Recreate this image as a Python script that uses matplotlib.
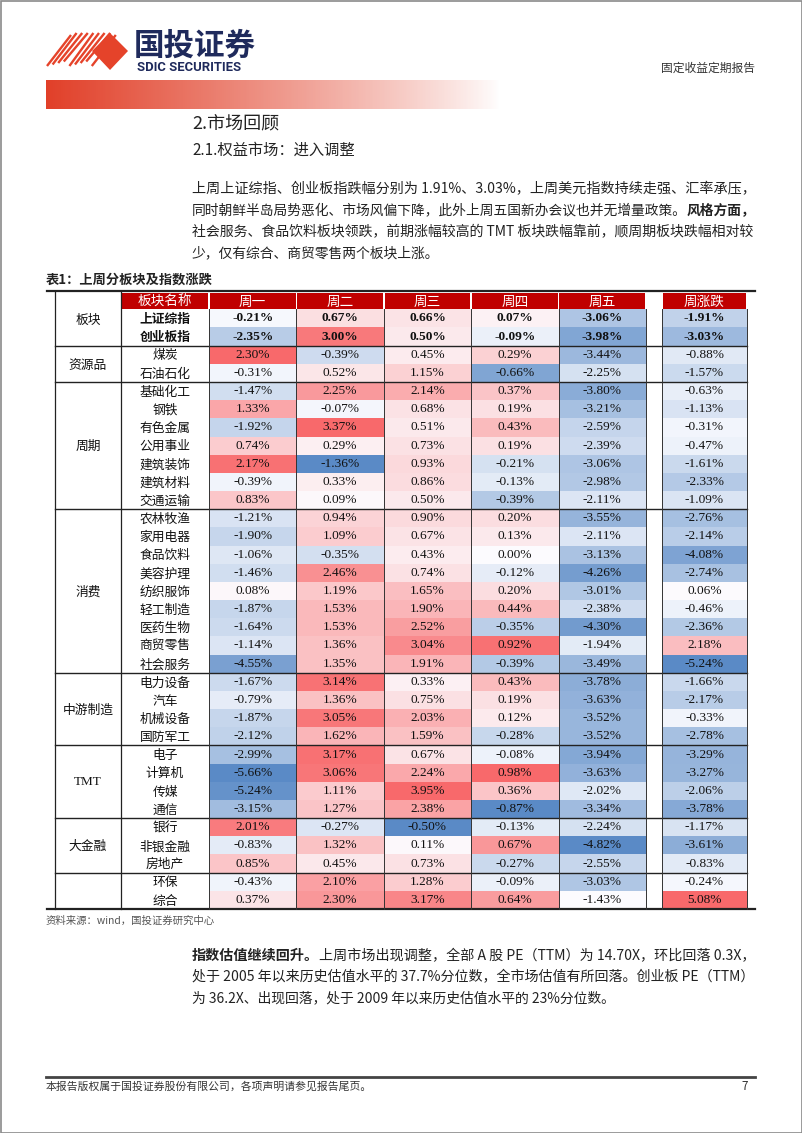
import numpy as np
import matplotlib
matplotlib.use('Agg')
import matplotlib.pyplot as plt
from matplotlib.colors import LinearSegmentedColormap
from matplotlib.patches import Rectangle, Polygon

plt.rcParams['font.family'] = ['Noto Sans CJK SC', 'DejaVu Sans']

# ---------------- data ----------------
groups = ['板块', '资源品', '周期', '消费', '中游制造', 'TMT', '大金融', '']
group_sizes = [2, 2, 7, 9, 4, 4, 3, 2]
names = ['上证综指', '创业板指', '煤炭', '石油石化', '基础化工', '钢铁', '有色金属', '公用事业',
         '建筑装饰', '建筑材料', '交通运输', '农林牧渔', '家用电器', '食品饮料', '美容护理',
         '纺织服饰', '轻工制造', '医药生物', '商贸零售', '社会服务', '电力设备', '汽车',
         '机械设备', '国防军工', '电子', '计算机', '传媒', '通信', '银行', '非银金融',
         '房地产', '环保', '综合']
columns = ['周一', '周二', '周三', '周四', '周五', '周涨跌']
mon = [-0.21, -2.35, 2.30, -0.31, -1.47, 1.33, -1.92, 0.74, 2.17, -0.39, 0.83, -1.21, -1.90,
       -1.06, -1.46, 0.08, -1.87, -1.64, -1.14, -4.55, -1.67, -0.79, -1.87, -2.12, -2.99,
       -5.66, -5.24, -3.15, 2.01, -0.83, 0.85, -0.43, 0.37]
tue = [0.67, 3.00, -0.39, 0.52, 2.25, -0.07, 3.37, 0.29, -1.36, 0.33, 0.09, 0.94, 1.09,
       -0.35, 2.46, 1.19, 1.53, 1.53, 1.36, 1.35, 3.14, 1.36, 3.05, 1.62, 3.17, 3.06, 1.11,
       1.27, -0.27, 1.32, 0.45, 2.10, 2.30]
wed = [0.66, 0.50, 0.45, 1.15, 2.14, 0.68, 0.51, 0.73, 0.93, 0.86, 0.50, 0.90, 0.67, 0.43,
       0.74, 1.65, 1.90, 2.52, 3.04, 1.91, 0.33, 0.75, 2.03, 1.59, 0.67, 2.24, 3.95, 2.38,
       -0.50, 0.11, 0.73, 1.28, 3.17]
thu = [0.07, -0.09, 0.29, -0.66, 0.37, 0.19, 0.43, 0.19, -0.21, -0.13, -0.39, 0.20, 0.13,
       0.00, -0.12, 0.20, 0.44, -0.35, 0.92, -0.39, 0.43, 0.19, 0.12, -0.28, -0.08, 0.98,
       0.36, -0.87, -0.13, 0.67, -0.27, -0.09, 0.64]
fri = [-3.06, -3.98, -3.44, -2.25, -3.80, -3.21, -2.59, -2.39, -3.06, -2.98, -2.11, -3.55,
       -2.11, -3.13, -4.26, -3.01, -2.38, -4.30, -1.94, -3.49, -3.78, -3.63, -3.52, -3.52,
       -3.94, -3.63, -2.02, -3.34, -2.24, -4.82, -2.55, -3.03, -1.43]
week = [-1.91, -3.03, -0.88, -1.57, -0.63, -1.13, -0.31, -0.47, -1.61, -2.33, -1.09, -2.76,
        -2.14, -4.08, -2.74, 0.06, -0.46, -2.36, 2.18, -5.24, -1.66, -2.17, -0.33, -2.78,
        -3.29, -3.27, -2.06, -3.78, -1.17, -3.61, -0.83, -0.24, 5.08]
series = [mon, tue, wed, thu, fri, week]

# ---------------- page ----------------
W, H = 802, 1133
fig = plt.figure(figsize=(W / 100, H / 100), dpi=100)
ax = fig.add_axes([0, 0, 1, 1])
ax.set_xlim(0, W)
ax.set_ylim(H, 0)
ax.axis('off')
renderer = fig.canvas.get_renderer()

ax.add_patch(Rectangle((0.5, 0.5), W - 1, H - 1, fill=False, ec='#8a8a8a', lw=1.2))

# logo
RED = '#E5432A'
for k in range(9):
    x0 = 47 + 5.6 * k
    top = 33 + (2 if k in (0, 8) else 0)
    ax.plot([x0, x0 + 24], [66 - (k % 4) * 1.5, top], color=RED, lw=1.7, solid_capstyle='butt')
ax.add_patch(Polygon([(92, 51), (110, 33), (128, 51), (110, 70)], closed=True, fc=RED, ec='none'))
ax.text(134, 46, '国投证券', fontsize=22, fontweight='bold', color='#1F2A5C', va='center', ha='left')
ax.text(137, 67.5, 'SDIC SECURITIES', fontsize=9.4, fontweight='bold', color='#1F2A5C',
        va='center', ha='left', family='Roboto')
ax.text(755, 68, '固定收益定期报告', fontsize=8.5, color='#333333', va='center', ha='right')

# gradient bar
n = 400
t = np.linspace(0, 1, n)
grad = np.ones((1, n, 4))
grad[0, :, 0] = 0.886
grad[0, :, 1] = 0.25
grad[0, :, 2] = 0.16
grad[0, :, 3] = np.clip(1 - t, 0, 1) ** 0.85
ax.imshow(grad, extent=[46, 500, 109, 80], aspect='auto', zorder=1)
ax.set_xlim(0, W)
ax.set_ylim(H, 0)

# headings
ax.text(192, 124, '2.市场回顾', fontsize=13, color='#222222', va='center', ha='left')
ax.text(192, 150, '2.1.权益市场：进入调整', fontsize=11, color='#222222', va='center', ha='left')


def runs_line(x, y, runs, size, fit_width=None):
    if fit_width is not None:
        total = 0.0
        for txt, wt in runs:
            tmp = ax.text(0, 0, txt, fontsize=size, fontweight=wt)
            total += tmp.get_window_extent(renderer).width
            tmp.remove()
        size = size * fit_width / total
    for txt, wt in runs:
        tt = ax.text(x, y, txt, fontsize=size, fontweight=wt, color='#222222', va='center', ha='left')
        x += tt.get_window_extent(renderer).width


BODY = 9.95
LINE_W = 561
para1 = [
    [('上周上证综指、创业板指跌幅分别为 1.91%、3.03%，上周美元指数持续走强、汇率承压，', 'normal')],
    [('同时朝鲜半岛局势恶化、市场风偏下降，此外上周五国新办会议也并无增量政策。', 'normal'), ('风格方面，', 'bold')],
    [('社会服务、食品饮料板块领跌，前期涨幅较高的 TMT 板块跌幅靠前，顺周期板块跌幅相对较', 'normal')],
    [('少，仅有综合、商贸零售两个板块上涨。', 'normal')],
]
for i, r in enumerate(para1):
    runs_line(192, 189 + 21.4 * i, r, BODY, LINE_W if i < 3 else None)

ax.text(46, 280, '表1：上周分板块及指数涨跌', fontsize=9.5, fontweight='bold', color='#222222',
        va='center', ha='left')

# ---------------- table ----------------
cmap = LinearSegmentedColormap.from_list('rwb', ['#5A8AC6', '#FCFCFF', '#F8696B'])
x_left, x_grp, x_name = 55, 121, 209
data_edges = np.linspace(209, 646, 6)
col_x = [(data_edges[i], data_edges[i + 1]) for i in range(5)] + [(662, 747)]
head_top, head_bot = 292.5, 309.3
nrows = len(names)
row_h = (909 - head_bot) / nrows
yedges = head_bot + row_h * np.arange(nrows + 1)
ycent = (yedges[:-1] + yedges[1:]) / 2
CJK_DY = 1.2


def col_norm(vals):
    v = np.asarray(vals, float)
    lo, hi = v.min(), v.max()
    c = min(max(0.0, lo), hi)
    out = np.full(v.shape, 0.5)
    neg = v < c
    pos = v > c
    if c > lo:
        out[neg] = 0.5 - 0.5 * (c - v[neg]) / (c - lo)
    if hi > c:
        out[pos] = 0.5 + 0.5 * (v[pos] - c) / (hi - c)
    return out


for j, vals in enumerate(series):
    x0, x1 = col_x[j]
    ax.pcolormesh([x0, x1], yedges, col_norm(vals)[:, None], cmap=cmap, vmin=0, vmax=1,
                  shading='flat', zorder=2)
    for i, v in enumerate(vals):
        ax.text((x0 + x1) / 2, ycent[i], f'{v:.2f}%', fontsize=9.6, family='Liberation Serif',
                fontweight='bold' if i < 2 else 'normal', color='#111111',
                ha='center', va='center', zorder=4)

# header
HRED = '#C00000'
head_cells = [(x_grp, x_name)] + col_x
head_labels = ['板块名称'] + columns
for (x0, x1), lab in zip(head_cells, head_labels):
    ax.add_patch(Rectangle((x0 + 0.8, head_top), x1 - x0 - 1.6, head_bot - head_top - 0.8,
                           fc=HRED, ec='none', zorder=3))
    ax.text((x0 + x1) / 2, (head_top + head_bot) / 2 + CJK_DY, lab, fontsize=9.8, color='white',
            ha='center', va='center', zorder=4)

# names
for i, nm in enumerate(names):
    ax.text((x_grp + x_name) / 2, ycent[i] + CJK_DY, nm, fontsize=9.2, color='#111111',
            fontweight='bold' if i < 2 else 'normal', ha='center', va='center', zorder=4)

# group labels + separators
bounds = np.concatenate([[0], np.cumsum(group_sizes)])
for g, lab in enumerate(groups):
    a, b = bounds[g], bounds[g + 1]
    ytop = head_top if g == 0 else yedges[a]
    yc = (ytop + yedges[b]) / 2
    if lab:
        if lab == 'TMT':
            ax.text((x_left + x_grp) / 2, yc, lab, fontsize=9.5, color='#111111', ha='center',
                    va='center', zorder=4, family='Liberation Serif')
        else:
            ax.text((x_left + x_grp) / 2, yc + CJK_DY, lab, fontsize=9.2, color='#111111',
                    ha='center', va='center', zorder=4)
    if 0 < b < nrows:
        ax.plot([x_left, 747], [yedges[b], yedges[b]], color='#222222', lw=1.0, zorder=5)

# borders
ax.plot([47, 755], [291, 291], color='#222222', lw=1.6, zorder=5)
ax.plot([47, 755], [909, 909], color='#222222', lw=1.6, zorder=5)
for xv in [x_left, x_grp]:
    ax.plot([xv, xv], [291, 909], color='#222222', lw=0.9, zorder=5)
for xv in [x_name] + list(data_edges[1:]) + [662, 747]:
    ax.plot([xv, xv], [head_bot, 909], color='#333333', lw=0.7, zorder=5)

ax.text(46, 921, '资料来源：wind，国投证券研究中心', fontsize=7.5, style='italic', color='#555555',
        va='center', ha='left')

para2 = [
    [('指数估值继续回升。', 'bold'), ('上周市场出现调整，全部 A 股 PE（TTM）为 14.70X，环比回落 0.3X，', 'normal')],
    [('处于 2005 年以来历史估值水平的 37.7%分位数，全市场估值有所回落。创业板 PE（TTM）', 'normal')],
    [('为 36.2X、出现回落，处于 2009 年以来历史估值水平的 23%分位数。', 'normal')],
]
for i, r in enumerate(para2):
    runs_line(192, 956 + 21.2 * i, r, BODY, LINE_W if i < 2 else None)

# footer
ax.plot([46, 755], [1077, 1077], color='#444444', lw=2.0)
ax.text(46, 1087, '本报告版权属于国投证券股份有限公司，各项声明请参见报告尾页。', fontsize=7.8,
        color='#333333', va='center', ha='left')
ax.text(745, 1087, '7', fontsize=8.5, color='#333333', va='center', ha='center')

fig.savefig('out.png', dpi=100)
